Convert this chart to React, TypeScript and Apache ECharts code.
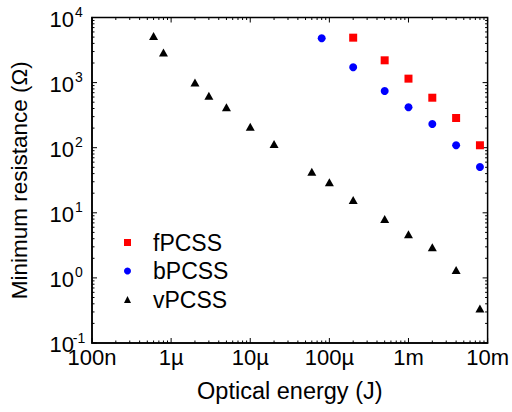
import React, { useEffect, useRef } from 'react';
import * as echarts from 'echarts';

// fPCSS (red squares)
const fEnergy = [2e-4, 5e-4, 1e-3, 2e-3, 4e-3, 8e-3];
const fResistance = [4900, 2200, 1150, 586, 286, 109];
// bPCSS (blue circles)
const bEnergy = [8e-5, 2e-4, 5e-4, 1e-3, 2e-3, 4e-3, 8e-3];
const bResistance = [4800, 1720, 743, 417, 231, 109, 50.5];
// vPCSS (black triangles)
const vEnergy = [6e-7, 8e-7, 2e-6, 3e-6, 5e-6, 1e-5, 2e-5, 6e-5, 1e-4, 2e-4, 5e-4, 1e-3, 2e-3, 4e-3, 8e-3];
const vResistance = [5200, 2900, 1000, 630, 417, 210, 114, 42.8, 29.4, 15.7, 8.0, 4.7, 2.95, 1.32, 0.34];

const seriesNames = ['fPCSS', 'bPCSS', 'vPCSS'];
const xTickLabels = ['100n', '1\u00b5', '10\u00b5', '100\u00b5', '1m', '10m'];
const yTickExponents = ['-1', '0', '1', '2', '3', '4'];

const X_MIN = 1e-7;
const X_MAX = 1e-2;
const Y_MIN = 1e-1;
const Y_MAX = 1e4;

const FONT = '"Liberation Sans", Arial, sans-serif';

function buildTicks() {
  const items: number[][] = [];
  const xDecades = Math.round(Math.log10(X_MAX / X_MIN));
  for (let d = 0; d <= xDecades; d++) {
    const base = X_MIN * Math.pow(10, d);
    items.push([base, 1, 0]);
    if (d < xDecades) for (let m = 2; m <= 9; m++) items.push([base * m, 1, 1]);
  }
  const yDecades = Math.round(Math.log10(Y_MAX / Y_MIN));
  for (let d = 0; d <= yDecades; d++) {
    const base = Y_MIN * Math.pow(10, d);
    items.push([1e-5, base, 2]);
    if (d < yDecades) for (let m = 2; m <= 9; m++) items.push([1e-5, base * m, 3]);
  }
  return items;
}

export default function App() {
  const ref = useRef<HTMLDivElement>(null);
  useEffect(() => {
    if (!ref.current) return;
    const chart = echarts.init(ref.current, null, { renderer: 'svg' });
    const zip = (xs: number[], ys: number[]) => xs.map((x, i) => [x, ys[i]]);
    chart.setOption({
      animation: false,
      backgroundColor: '#fff',
      grid: { left: 87, right: 23, top: 17.5, bottom: 69, show: true, borderColor: '#000', borderWidth: 1.5 },
      legend: {
        orient: 'vertical',
        left: 124,
        top: 231,
        padding: 0,
        itemGap: 5.5,
        itemWidth: 7,
        itemHeight: 7,
        data: [
          { name: seriesNames[0], icon: 'rect', itemStyle: { opacity: 1 } },
          { name: seriesNames[1], icon: 'circle', itemStyle: { opacity: 1 } },
          { name: seriesNames[2], icon: 'triangle', itemStyle: { opacity: 1 } },
        ],
        textStyle: { fontFamily: FONT, fontSize: 23, color: '#000', lineHeight: 20, padding: [0, 0, 0, 17] },
      },
      xAxis: {
        type: 'log',
        logBase: 10,
        min: X_MIN,
        max: X_MAX,
        name: 'Optical energy (J)',
        nameLocation: 'middle',
        nameGap: 36,
        nameTextStyle: { fontFamily: FONT, fontSize: 23.5, color: '#000' },
        axisLine: { show: true, lineStyle: { color: '#000', width: 1.5 } },
        axisTick: { show: false },
        minorTick: { show: false },
        splitLine: { show: false },
        axisLabel: {
          margin: 3,
          fontFamily: FONT,
          fontSize: 22,
          color: '#000',
          formatter: (v: number) => xTickLabels[Math.round(Math.log10(v / X_MIN))] ?? '',
        },
      },
      yAxis: {
        type: 'log',
        logBase: 10,
        min: Y_MIN,
        max: Y_MAX,
        name: 'Minimum resistance (\u03a9)',
        nameLocation: 'middle',
        nameGap: 61,
        nameTextStyle: { fontFamily: FONT, fontSize: 22.5, color: '#000' },
        axisLine: { show: true, lineStyle: { color: '#000', width: 1.5 } },
        axisTick: { show: false },
        minorTick: { show: false },
        splitLine: { show: false },
        axisLabel: {
          margin: 8,
          color: '#000',
          formatter: (v: number) => {
            const e = yTickExponents[Math.round(Math.log10(v / Y_MIN))] ?? '';
            return `{b|10}{s|${e}}`;
          },
          rich: {
            b: { fontFamily: FONT, fontSize: 22, color: '#000', lineHeight: 22, verticalAlign: 'bottom' },
            s: { fontFamily: FONT, fontSize: 14, color: '#000', width: 10, align: 'left', verticalAlign: 'bottom', padding: [0, 0, 11, 0] },
          },
        },
      },
      series: [
        {
          name: seriesNames[0],
          type: 'scatter',
          symbol: 'rect',
          symbolSize: 8,
          itemStyle: { color: '#ff0000', opacity: 1 },
          data: zip(fEnergy, fResistance),
          z: 3,
        },
        {
          name: seriesNames[1],
          type: 'scatter',
          symbol: 'circle',
          symbolSize: 8,
          itemStyle: { color: '#0000ff', opacity: 1 },
          data: zip(bEnergy, bResistance),
          z: 3,
        },
        {
          name: seriesNames[2],
          type: 'scatter',
          symbol: 'triangle',
          symbolSize: [9, 8],
          itemStyle: { color: '#000', opacity: 1 },
          data: zip(vEnergy, vResistance),
          z: 3,
        },
        {
          type: 'custom',
          silent: true,
          clip: false,
          data: buildTicks(),
          renderItem: (params: any, api: any) => {
            const cs = params.coordSys;
            const kind = api.value(2);
            const len = kind % 2 === 0 ? 5 : 2.5;
            let lines: number[][];
            if (kind < 2) {
              const px = api.coord([api.value(0), 1])[0];
              const b = cs.y + cs.height;
              lines = [[px, b, px, b - len], [px, cs.y, px, cs.y + len]];
            } else {
              const py = api.coord([1e-5, api.value(1)])[1];
              const r = cs.x + cs.width;
              lines = [[cs.x, py, cs.x + len, py], [r, py, r - len, py]];
            }
            return {
              type: 'group',
              children: lines.map((l) => ({
                type: 'line',
                shape: { x1: l[0], y1: l[1], x2: l[2], y2: l[3] },
                style: { stroke: '#000', lineWidth: 1 },
              })),
            };
          },
        },
      ],
    });
    return () => chart.dispose();
  }, []);
  return <div ref={ref} style={{ position: 'fixed', left: 0, top: 0, width: 512, height: 412 }} />;
}
